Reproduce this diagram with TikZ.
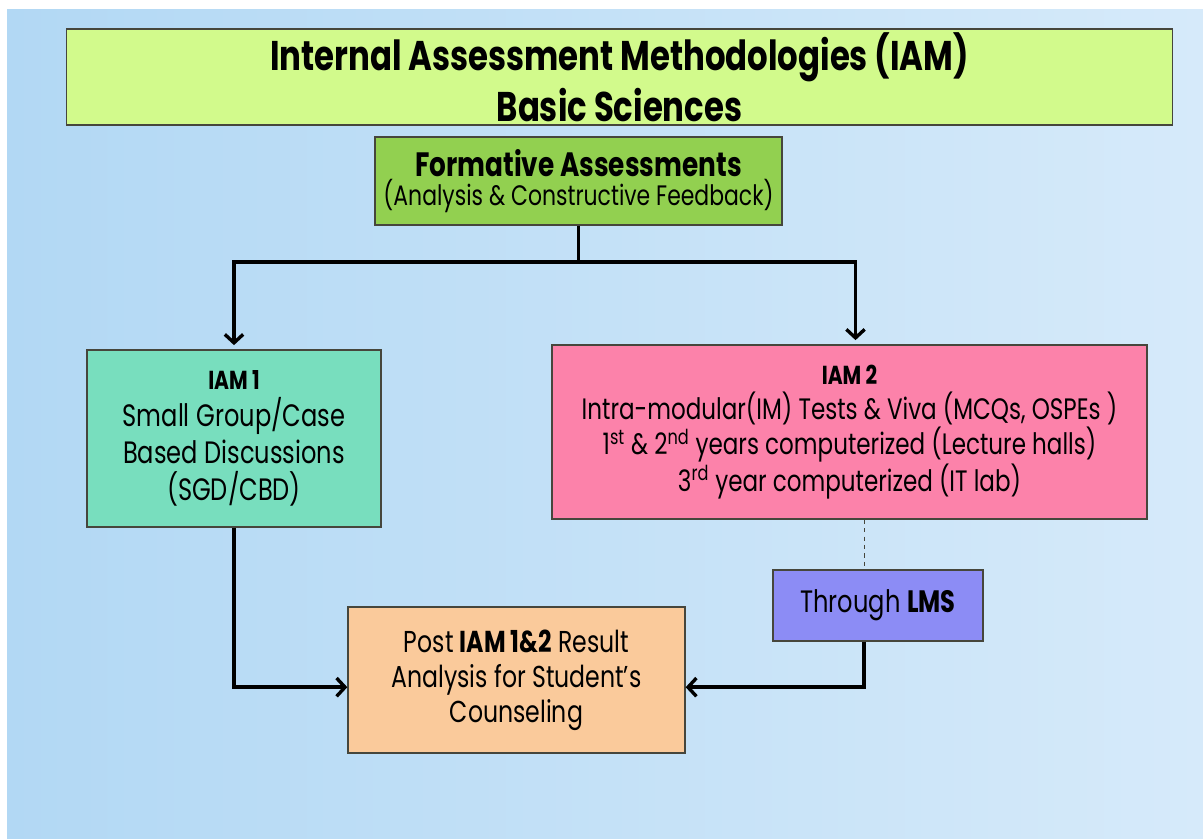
\documentclass[tikz,border=0pt]{standalone}
\usepackage{fontspec}
\setmainfont[FakeStretch=0.78]{Poppins}
\usetikzlibrary{arrows.meta}

\definecolor{titlelime}{RGB}{210,250,140}
\definecolor{formgreen}{RGB}{146,208,80}
\definecolor{iamteal}{RGB}{120,222,190}
\definecolor{iampink}{RGB}{252,130,170}
\definecolor{lmsblue}{RGB}{140,140,245}
\definecolor{postpeach}{RGB}{250,202,155}
\definecolor{skyleft}{RGB}{178,216,244}
\definecolor{skymid}{RGB}{238,246,253}
\definecolor{skyright}{RGB}{214,234,250}
\definecolor{edgegray}{RGB}{70,70,60}

\begin{document}
\begin{tikzpicture}[x=0.025cm, y=-0.025cm,
    box/.style={draw=edgegray, line width=0.9pt, align=center, inner sep=2pt},
    flow/.style={line width=2.6pt, -{Straight Barb[length=6pt, width=13pt, line width=2.4pt]}},
]
    % Background
    \useasboundingbox (0,0) rectangle (1203,839);
    \fill[white] (0,0) rectangle (1203,839);
    \shade[left color=skyleft, middle color=skymid, right color=skyright] (7,10) rectangle (1203,839);

    % Title
    \node[box, fill=titlelime, minimum width=27.625cm, minimum height=2.4cm,
        font=\bfseries\fontsize{29.5}{36}\selectfont] (title) at (619.5,77)
        {Internal Assessment Methodologies (IAM)\\Basic Sciences};

    % Formative
    \node[box, fill=formgreen, minimum width=10.175cm, minimum height=2.2cm] (form) at (578.5,181)
        {{\bfseries\fontsize{24}{28}\selectfont Formative Assessments}\\[1pt]
         {\fontsize{20}{22}\selectfont (Analysis \& Constructive Feedback)}};

    % IAM 1 and IAM 2
    \node[box, fill=iamteal, minimum width=7.35cm, minimum height=4.425cm,
        font=\fontsize{22}{26.3}\selectfont] (iam1) at (234,438.5)
        {{\bfseries\fontsize{18.5}{26.3}\selectfont IAM 1}\\Small Group/Case\\Based Discussions\\(SGD/CBD)};
    \node[box, fill=iampink, minimum width=14.875cm, minimum height=4.35cm,
        font=\fontsize{21}{25}\selectfont] (iam2) at (849.5,432)
        {{\bfseries\fontsize{18.5}{25}\selectfont IAM 2}\\
         Intra-modular(IM) Tests \& Viva (MCQs, OSPEs )\\
         1\textsuperscript{st} \& 2\textsuperscript{nd} years computerized (Lecture halls)\\
         3\textsuperscript{rd} year computerized (IT lab)};

    % LMS and result analysis
    \node[box, fill=lmsblue, minimum width=5.25cm, minimum height=1.775cm,
        font=\fontsize{22}{25}\selectfont] (lms) at (878,605.5)
        {Through \textbf{LMS}};
    \node[box, fill=postpeach, minimum width=8.425cm, minimum height=3.65cm,
        font=\fontsize{21.5}{25}\selectfont] (post) at (516.5,680)
        {Post \textbf{IAM 1\&2} Result\\Analysis for Student's\\Counseling};

    % Connectors
    \coordinate (split) at (578.5,262);
    \draw[line width=2.6pt] (form.south) -- (split);
    \draw[flow] (split) -| ([yshift=3pt]iam1.north);
    \draw[flow] (split) -| ([xshift=0.15cm, yshift=3pt]iam2.north);
    \draw[edgegray, dashed, line width=0.5pt] ([xshift=-0.35cm]lms.north |- iam2.south) -- ([xshift=-0.35cm]lms.north);
    \draw[flow] (iam1.south) |- ([yshift=-0.18cm]post.west);
    \draw[flow] ([xshift=-0.35cm]lms.south) |- ([yshift=-0.18cm]post.east);
\end{tikzpicture}
\end{document}
